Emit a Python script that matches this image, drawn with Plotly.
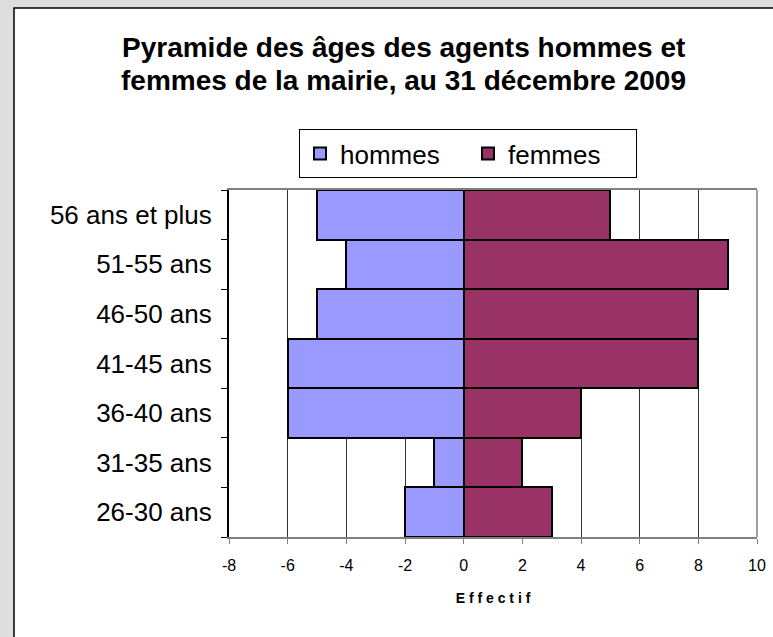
import plotly.graph_objects as go

categories = ["26-30 ans", "31-35 ans", "36-40 ans", "41-45 ans", "46-50 ans", "51-55 ans", "56 ans et plus"]
hommes = [-2, -1, -6, -6, -5, -4, -5]
femmes = [3, 2, 4, 8, 8, 9, 5]
x_ticks = [-8, -6, -4, -2, 0, 2, 4, 6, 8, 10]
x_tick_labels = ["-8", "-6", "-4", "-2", "0", "2", "4", "6", "8", "10"]

W, H = 773, 637
L, R, T, B = 229, 16, 190, 100
pw, ph = W - L - R, H - T - B

def px(x):
    return (x - L) / pw

def py(y):
    return (H - B - y) / ph

fig = go.Figure()
fig.add_trace(go.Bar(y=categories, x=hommes, orientation="h", name="hommes",
                     marker=dict(color="#9999FF", line=dict(color="black", width=2))))
fig.add_trace(go.Bar(y=categories, x=femmes, orientation="h", name="femmes",
                     marker=dict(color="#993366", line=dict(color="black", width=2))))

font = "Liberation Sans, Arial, sans-serif"
fig.update_layout(
    width=W, height=H,
    margin=dict(l=L, r=R, t=T, b=B, autoexpand=False),
    barmode="relative", bargap=0,
    paper_bgcolor="#dedede", plot_bgcolor="white",
    font=dict(family=font, color="black"),
    showlegend=True,
    legend=dict(orientation="h", x=px(468), xanchor="center", y=py(129), yanchor="top",
                bordercolor="black", borderwidth=1, bgcolor="white",
                font=dict(size=26, family=font), entrywidth=123, itemwidth=30,
                traceorder="normal"),
    hovermode=False,
)
fig.update_xaxes(range=[-8, 10], tickvals=x_ticks, ticktext=x_tick_labels, ticks="outside", ticklen=5,
                 tickcolor="#808080", showline=True, linecolor="#808080", linewidth=2,
                 showgrid=True, gridcolor="#303030", gridwidth=1, zeroline=False,
                 tickfont=dict(size=16), mirror=True, ticklabelstandoff=8, automargin=False,
                 title=dict(text="<b>E f f e c t i f</b>", font=dict(size=14), standoff=20))
fig.update_yaxes(categoryorder="array", categoryarray=categories, tickson="boundaries",
                 ticks="outside", ticklen=6, tickcolor="black", showline=True,
                 linecolor="black", linewidth=2, tickfont=dict(size=26), showgrid=False,
                 ticklabelstandoff=10, automargin=False)

shapes = [
    dict(type="rect", xref="paper", yref="paper", x0=px(14), x1=px(W + 20), y0=py(H + 20), y1=py(8),
         line=dict(color="black", width=1.5), fillcolor="white", layer="below"),
    dict(type="line", xref="paper", yref="paper", x0=1, x1=1, y0=0, y1=1,
         line=dict(color="#a0a0a0", width=2)),
]
fig.update_layout(shapes=shapes)

fig.add_annotation(text="<b>Pyramide des âges des agents hommes et</b>", xref="paper", yref="paper",
                   x=px(403), y=py(48), showarrow=False, font=dict(size=28, family=font),
                   xanchor="center", yanchor="middle")
fig.add_annotation(text="<b>femmes de la mairie, au 31 décembre 2009</b>", xref="paper", yref="paper",
                   x=px(403), y=py(80), showarrow=False, font=dict(size=28, family=font),
                   xanchor="center", yanchor="middle")

fig.write_html("out.html", config={"displayModeBar": False},
               post_script="document.body.style.margin='0';")
